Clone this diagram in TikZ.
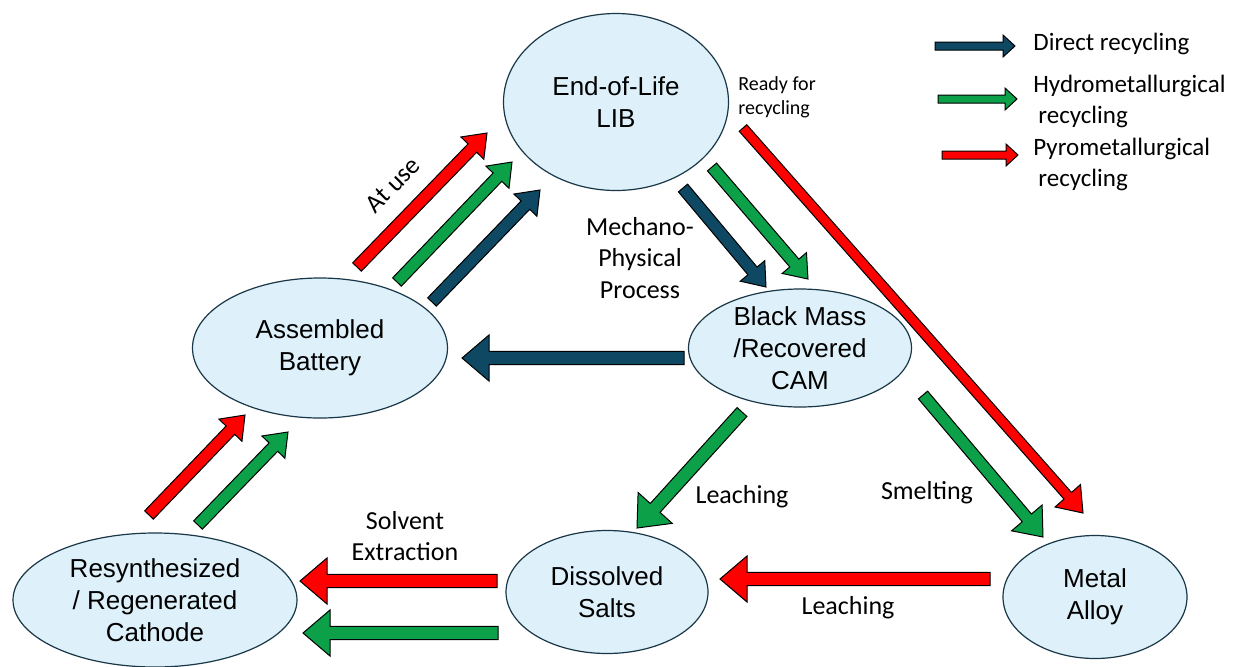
\documentclass[tikz,border=0pt]{standalone}
\usepackage{fontspec}
\setmainfont{Carlito}
\newfontfamily\arialfont{Liberation Sans}
\usepackage{tikz}
\usetikzlibrary{shapes.geometric, calc, positioning}

\definecolor{dirblue}{RGB}{14,72,98}
\definecolor{hydgreen}{RGB}{12,160,72}
\definecolor{pyrred}{RGB}{255,0,0}
\definecolor{ellfill}{RGB}{222,241,250}
\definecolor{elldraw}{RGB}{25,55,70}

\tikzset{
	blk/.style n args={3}{to path={let \p1=($(\tikztotarget)-(\tikztostart)$), \n1={atan2(\y1,\x1)}, \n2={veclen(\x1,\y1)} in
		($(\tikztostart)+(\n1+90:#1pt)$) -- ($(\tikztostart)+(\n1:\n2-#3pt)+(\n1+90:#1pt)$)
		-- ($(\tikztostart)+(\n1:\n2-#3pt)+(\n1+90:#2pt)$) -- (\tikztotarget)
		-- ($(\tikztostart)+(\n1:\n2-#3pt)+(\n1-90:#2pt)$) -- ($(\tikztostart)+(\n1:\n2-#3pt)+(\n1-90:#1pt)$)
		-- ($(\tikztostart)+(\n1-90:#1pt)$) -- cycle}},
	bigarr/.style={blk={3.3}{11.5}{13.5}},
	semiarr/.style={blk={3}{10}{12.5}},
	midarr/.style={blk={3}{8}{10.5}},
	thinarr/.style={blk={2.5}{8.5}{11.5}},
	legarr/.style={blk={2}{5.5}{6}},
	dirc/.style={draw=black, line width=0.5pt, fill=dirblue, line join=miter},
	hydc/.style={draw=black, line width=0.5pt, fill=hydgreen, line join=miter},
	pyrc/.style={draw=black, line width=0.5pt, fill=pyrred, line join=miter},
}

\begin{document}
\begin{tikzpicture}[x=0.5pt, y=-0.5pt,
	stage/.style={ellipse, draw=elldraw, fill=ellfill, line width=0.6pt, inner sep=0pt, align=center, font=\arialfont\fontsize{13}{16}\selectfont},
	lbl/.style={font=\fontsize{13}{15.75}\selectfont, align=center},
	leg/.style={font=\fontsize{12.5}{15.5}\selectfont, align=left, anchor=west, inner sep=0pt}]

	\useasboundingbox (0,0) rectangle (1239,666);

	\node[stage, minimum width=112.5pt, minimum height=88.5pt] (eol) at (616,102) {End-of-Life\\LIB};
	\node[stage, minimum width=127.5pt, minimum height=70pt] (asm) at (320,348) {Assembled\\Battery};
	\node[stage, minimum width=111.5pt, minimum height=59pt, inner ysep=-5pt] (bm) at (800,348) {Black Mass\\/Recovered\\CAM};
	\node[stage, minimum width=142pt, minimum height=67pt, inner ysep=-5pt] (res) at (155,600) {Resynthesized\\/ Regenerated\\Cathode};
	\node[stage, minimum width=101pt, minimum height=61.5pt] (dis) at (607,592) {Dissolved\\Salts};
	\node[stage, minimum width=92pt, minimum height=61.5pt] (met) at (1095,597) {Metal\\Alloy};

	\coordinate (use1) at (357,267);  \coordinate (use1e) at (487,133);
	\coordinate (use2) at (397,282);  \coordinate (use2e) at (512,162);
	\coordinate (use3) at (432,302);  \coordinate (use3e) at (540,190);
	\coordinate (mech1) at (683,188); \coordinate (mech1e) at (766,287);
	\coordinate (mech2) at (712,167); \coordinate (mech2e) at (808,279);
	\coordinate (ready) at (743,128); \coordinate (readye) at (1083,513);
	\coordinate (smelt) at (923,395); \coordinate (smelte) at (1043,537);
	\coordinate (leach) at (742,412); \coordinate (leache) at (637,528);
	\coordinate (back) at (684,358);  \coordinate (backe) at (462,358);
	\coordinate (mleach) at (990,579); \coordinate (mleache) at (720,579);
	\coordinate (solv1) at (497,581); \coordinate (solv1e) at (300,581);
	\coordinate (solv2) at (498,633); \coordinate (solv2e) at (303,633);
	\coordinate (regen1) at (149,515); \coordinate (regen1e) at (245,415);
	\coordinate (regen2) at (198,525); \coordinate (regen2e) at (288,432);

	\draw[pyrc, midarr] (use1) to (use1e);
	\draw[hydc, midarr] (use2) to (use2e);
	\draw[dirc, midarr] (use3) to (use3e);
	\draw[dirc, midarr] (mech1) to (mech1e);
	\draw[hydc, midarr] (mech2) to (mech2e);
	\draw[pyrc, thinarr] (ready) to (readye);
	\draw[hydc, semiarr] (smelt) to (smelte);
	\draw[hydc, bigarr] (leach) to (leache);
	\draw[dirc, bigarr] (back) to (backe);
	\draw[pyrc, bigarr] (mleach) to (mleache);
	\draw[pyrc, bigarr] (solv1) to (solv1e);
	\draw[hydc, bigarr] (solv2) to (solv2e);
	\draw[pyrc, midarr] (regen1) to (regen1e);
	\draw[hydc, midarr] (regen2) to (regen2e);

	\node[lbl, rotate=45] (atuse) at (393,185) {At use};
	\node[lbl] (mechlbl) at (640,258) {Mechano-\\Physical\\Process};
	\node[font=\fontsize{10}{12}\selectfont, align=left, anchor=west, inner sep=0pt] (readylbl) at (738,97) {Ready for\\recycling};
	\node[lbl] (leachlbl) at (742,497) {Leaching};
	\node[lbl] (smeltlbl) at (927,493) {Smelting};
	\node[lbl] (solvlbl) at (405,536) {Solvent\\Extraction};
	\node[lbl] (mleachlbl) at (848,608) {Leaching};

	\coordinate (ldir) at (935,46);  \coordinate (ldire) at (1015,46);
	\coordinate (lhyd) at (938,99);  \coordinate (lhyde) at (1017,99);
	\coordinate (lpyr) at (942,155); \coordinate (lpyre) at (1018,155);
	\draw[dirc, legarr] (ldir) to (ldire);
	\draw[hydc, legarr] (lhyd) to (lhyde);
	\draw[pyrc, legarr] (lpyr) to (lpyre);
	\node[leg] (ldirtxt) at (1033,44) {Direct recycling};
	\node[leg] (lhydtxt) at (1033,101) {Hydrometallurgical\\\hspace{2.5pt}recycling};
	\node[leg] (lpyrtxt) at (1033,164) {Pyrometallurgical\\\hspace{2.5pt}recycling};

\end{tikzpicture}
\end{document}
